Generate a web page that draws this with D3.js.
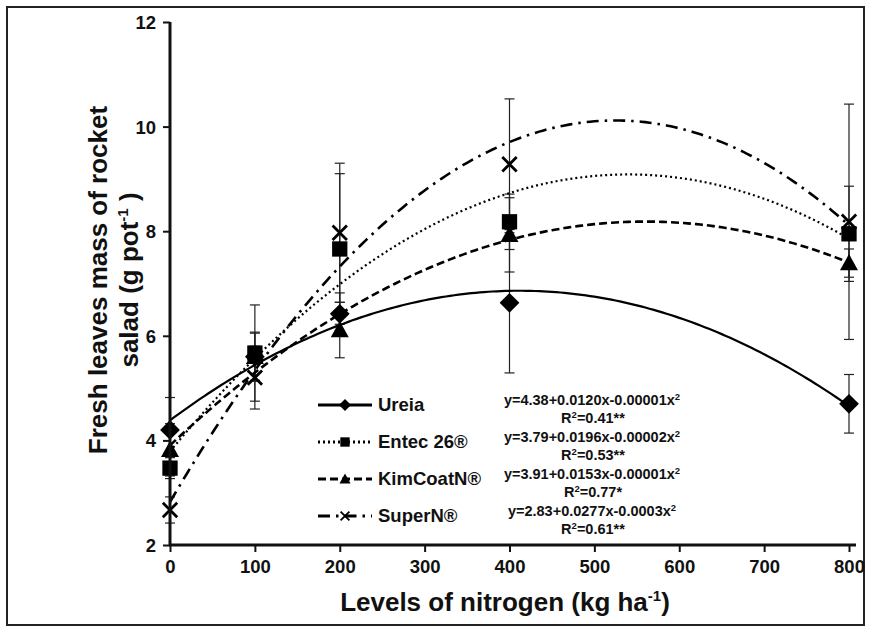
<!DOCTYPE html>
<html>
<head>
<meta charset="utf-8">
<script src="https://cdn.jsdelivr.net/npm/d3@7"></script>
<style>
  body { margin: 0; background: #fff; }
  text { font-family: "Liberation Sans", Arial, sans-serif; font-weight: bold; fill: #111; }
</style>
</head>
<body>
<div id="chart"></div>
<script>
// nitrogen levels (kg/ha)
var levels = [0, 100, 200, 400, 800];
var xTicks = [0, 100, 200, 300, 400, 500, 600, 700, 800];
var yTicks = [2, 4, 6, 8, 10, 12];

// treatment means and error bars (g/pot)
var ureia = [4.20, 5.60, 6.42, 6.63, 4.70];
var ureiaErr = [0.62, 0.47, 0.40, 1.34, 0.56];
var entec = [3.47, 5.67, 7.66, 8.18, 7.95];
var entecErr = [0.20, 0.92, 1.44, 0.53, 0.91];
var kimcoat = [3.82, 5.60, 6.11, 7.93, 7.39];
var kimcoatErr = [0.50, 0.45, 0.53, 0.71, 0.27];
var superN = [2.67, 5.20, 7.97, 9.28, 8.18];
var superNErr = [0.25, 0.60, 1.33, 1.25, 2.25];

var seriesNames = ["Ureia", "Entec 26®", "KimCoatN®", "SuperN®"];
var equations = ["y=4.38+0.0120x-0.00001x", "y=3.79+0.0196x-0.00002x",
                 "y=3.91+0.0153x-0.00001x", "y=2.83+0.0277x-0.0003x"];
var rSquared = ["=0.41**", "=0.53**", "=0.77*", "=0.61**"];

var width = 871, height = 632;
var x = d3.scaleLinear().domain([0, 800]).range([170, 849]);
var y = d3.scaleLinear().domain([2, 12]).range([545, 22]);

var svg = d3.select("#chart").append("svg")
    .attr("width", width)
    .attr("height", height);

// outer frame
svg.append("rect")
    .attr("x", 7).attr("y", 7)
    .attr("width", 857).attr("height", 618)
    .attr("fill", "#fff")
    .attr("stroke", "#222")
    .attr("stroke-width", 2);

var series = [
  {name: seriesNames[0], vals: ureia, err: ureiaErr, marker: "diamond", dash: null, lw: 2.2},
  {name: seriesNames[1], vals: entec, err: entecErr, marker: "square", dash: "2,3", lw: 2.2},
  {name: seriesNames[2], vals: kimcoat, err: kimcoatErr, marker: "triangle", dash: "8,4", lw: 2.6},
  {name: seriesNames[3], vals: superN, err: superNErr, marker: "cross", dash: "12,6,2.5,6", lw: 2.6}
];

// quadratic least squares fit (same as the spreadsheet trendline)
function quadFit(xs, ys) {
  var n = xs.length, s = [0, 0, 0, 0, 0], t = [0, 0, 0];
  for (var i = 0; i < n; i++) {
    var xi = 1;
    for (var k = 0; k < 5; k++) { s[k] += xi; if (k < 3) t[k] += xi * ys[i]; xi *= xs[i]; }
  }
  var m = [[s[0], s[1], s[2], t[0]], [s[1], s[2], s[3], t[1]], [s[2], s[3], s[4], t[2]]];
  for (var c = 0; c < 3; c++) {
    for (var r = c + 1; r < 3; r++) {
      var f = m[r][c] / m[c][c];
      for (var j = c; j < 4; j++) m[r][j] -= f * m[c][j];
    }
  }
  var coef = [0, 0, 0];
  for (var r2 = 2; r2 >= 0; r2--) {
    var v = m[r2][3];
    for (var j2 = r2 + 1; j2 < 3; j2++) v -= m[r2][j2] * coef[j2];
    coef[r2] = v / m[r2][r2];
  }
  return coef;
}

var line = d3.line()
    .x(function(d) { return x(d[0]); })
    .y(function(d) { return y(d[1]); });

var plot = svg.append("g");

// error bars first
series.forEach(function(s) {
  levels.forEach(function(lv, i) {
    var cx = x(lv);
    var top = y(s.vals[i] + s.err[i]), bot = y(s.vals[i] - s.err[i]);
    plot.append("line").attr("x1", cx).attr("x2", cx).attr("y1", top).attr("y2", bot)
        .attr("stroke", "#222").attr("stroke-width", 1.2);
    [top, bot].forEach(function(yy) {
      plot.append("line").attr("x1", cx - 5).attr("x2", cx + 5).attr("y1", yy).attr("y2", yy)
          .attr("stroke", "#222").attr("stroke-width", 1.2);
    });
  });
});

// trendlines
series.forEach(function(s) {
  var c = quadFit(levels, s.vals);
  var pts = d3.range(0, 801, 5).map(function(v) { return [v, c[0] + c[1] * v + c[2] * v * v]; });
  plot.append("path")
      .attr("d", line(pts))
      .attr("fill", "none")
      .attr("stroke", "#000")
      .attr("stroke-width", s.lw)
      .attr("stroke-dasharray", s.dash);
});

function drawMarker(g, type, cx, cy, sz) {
  if (type === "diamond") {
    var d = sz * 1.1;
    g.append("path").attr("d", "M" + cx + "," + (cy - d) + "L" + (cx + d) + "," + cy + "L" + cx + "," + (cy + d) + "L" + (cx - d) + "," + cy + "Z")
        .attr("fill", "#000");
  } else if (type === "square") {
    var h = sz * 0.85;
    g.append("rect").attr("x", cx - h).attr("y", cy - h).attr("width", 2 * h).attr("height", 2 * h).attr("fill", "#000");
  } else if (type === "triangle") {
    g.append("path").attr("d", "M" + cx + "," + (cy - sz) + "L" + (cx + sz) + "," + (cy + sz * 0.8) + "L" + (cx - sz) + "," + (cy + sz * 0.8) + "Z")
        .attr("fill", "#000");
  } else {
    var q = sz * 0.8;
    g.append("path").attr("d", "M" + (cx - q) + "," + (cy - q) + "L" + (cx + q) + "," + (cy + q) + "M" + (cx + q) + "," + (cy - q) + "L" + (cx - q) + "," + (cy + q))
        .attr("stroke", "#000").attr("stroke-width", sz > 6 ? 2.8 : 1.8).attr("fill", "none");
  }
}

series.forEach(function(s) {
  levels.forEach(function(lv, i) {
    drawMarker(plot, s.marker, x(lv), y(s.vals[i]), 9);
  });
});

// axes
var xAxis = svg.append("g")
    .attr("transform", "translate(0," + y(2) + ")")
    .call(d3.axisBottom(x).tickValues(xTicks).tickSize(7).tickSizeOuter(0).tickPadding(8));
var yAxis = svg.append("g")
    .attr("transform", "translate(" + x(0) + ",0)")
    .call(d3.axisLeft(y).tickValues(yTicks).tickSize(7).tickSizeOuter(0).tickPadding(7));

[xAxis, yAxis].forEach(function(a) {
  a.select(".domain").remove();
  a.selectAll(".tick line").attr("stroke", "#111").attr("stroke-width", 2);
  a.selectAll(".tick text").style("font-size", "18.5px").attr("fill", "#111");
});
yAxis.selectAll(".tick text").attr("dy", "0.35em");

svg.append("line").attr("x1", x(0) - 1).attr("x2", x(800) + 7).attr("y1", y(2)).attr("y2", y(2))
    .attr("stroke", "#111").attr("stroke-width", 3);
svg.append("line").attr("x1", x(0)).attr("x2", x(0)).attr("y1", y(12)).attr("y2", y(2) + 1)
    .attr("stroke", "#111").attr("stroke-width", 3);

// axis titles
var xt = svg.append("text")
    .attr("x", 505).attr("y", 611)
    .attr("text-anchor", "middle")
    .style("font-size", "26px");
xt.append("tspan").text("Levels of nitrogen (kg ha");
xt.append("tspan").attr("dy", -10).style("font-size", "15px").text("-1");
xt.append("tspan").attr("dy", 10).text(")");

var yt = svg.append("g").attr("transform", "translate(107,280) rotate(-90)");
yt.append("text").attr("x", 0).attr("y", 0).attr("text-anchor", "middle")
    .style("font-size", "26px").text("Fresh leaves mass of rocket");
var yt2 = yt.append("text").attr("x", 0).attr("y", 31).attr("text-anchor", "middle")
    .style("font-size", "26px");
yt2.append("tspan").text("salad (g pot");
yt2.append("tspan").attr("dy", -10).style("font-size", "15px").text("-1");
yt2.append("tspan").attr("dy", 10).text(" )");

// legend
var legend = svg.append("g");
series.forEach(function(s, i) {
  var ly = 405 + i * 37;
  legend.append("line").attr("x1", 318).attr("x2", 372).attr("y1", ly).attr("y2", ly)
      .attr("stroke", "#000").attr("stroke-width", s.lw + 0.6).attr("stroke-dasharray", s.dash);
  drawMarker(legend, s.marker, 345, ly, 5.5);
  legend.append("text").attr("x", 378).attr("y", ly + 6)
      .style("font-size", "18.5px").text(s.name);

  var eq = legend.append("text").attr("x", 592).attr("y", ly)
      .attr("text-anchor", "middle").style("font-size", "14.5px");
  eq.append("tspan").text(equations[i]);
  eq.append("tspan").attr("dy", -5).style("font-size", "9.5px").text("2");
  var r2 = legend.append("text").attr("x", 593).attr("y", ly + 18)
      .attr("text-anchor", "middle").style("font-size", "14.5px");
  r2.append("tspan").text("R");
  r2.append("tspan").attr("dy", -5).style("font-size", "9.5px").text("2");
  r2.append("tspan").attr("dy", 5).text(rSquared[i]);
});
</script>
</body>
</html>
